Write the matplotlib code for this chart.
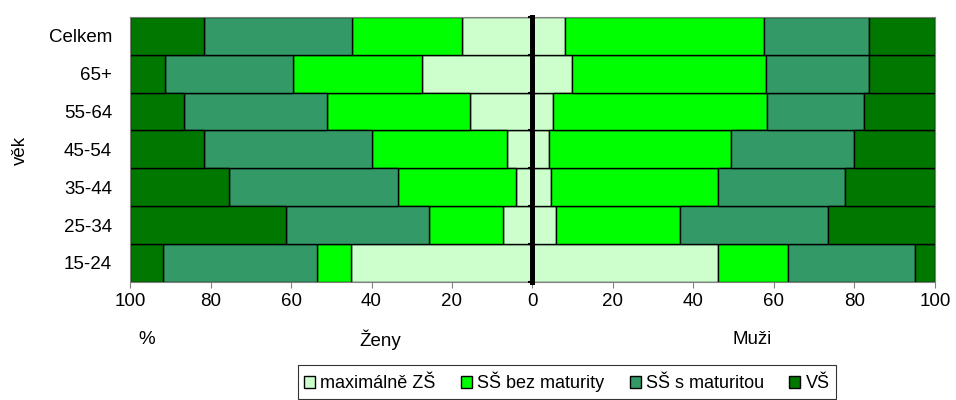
import matplotlib.pyplot as plt
import numpy as np

plt.rcParams['font.family'] = ['Liberation Sans', 'DejaVu Sans']

vek = ['15-24', '25-34', '35-44', '45-54', '55-64', '65+', 'Celkem']
vzdelani = ['maximálně ZŠ', 'SŠ bez maturity', 'SŠ s maturitou', 'VŠ']
barvy = ['#ccffcc', '#00ff00', '#339966', '#007800']

# ženy (levá strana), %
zeny_zs = [45.2, 7.3, 4.2, 6.3, 15.6, 27.5, 17.4]
zeny_bez = [8.4, 18.4, 29.1, 33.5, 35.5, 32.1, 27.4]
zeny_s = [38.1, 35.6, 42.0, 41.8, 35.6, 31.8, 36.8]
zeny_vs = [8.3, 38.7, 24.7, 18.4, 13.3, 8.6, 18.4]
# muži (pravá strana), %
muzi_zs = [46.1, 5.8, 4.5, 4.1, 5.1, 9.7, 8.0]
muzi_bez = [17.3, 30.9, 41.6, 45.3, 53.2, 48.2, 49.4]
muzi_s = [31.7, 36.8, 31.6, 30.4, 24.0, 25.8, 26.1]
muzi_vs = [4.9, 26.5, 22.3, 20.2, 17.7, 16.3, 16.5]

fig = plt.figure(figsize=(9.56, 4), dpi=100)
ax = fig.add_axes([0.136, 0.2955, 0.842, 0.662])

y = np.arange(len(vek))
zeny = [zeny_zs, zeny_bez, zeny_s, zeny_vs]
muzi = [muzi_zs, muzi_bez, muzi_s, muzi_vs]

left_z = np.zeros(len(vek))
left_m = np.zeros(len(vek))
handles = []
for i in range(4):
    z = np.array(zeny[i])
    m = np.array(muzi[i])
    h = ax.barh(y, -z, left=-left_z, height=1.0, color=barvy[i],
                edgecolor='black', linewidth=1, label=vzdelani[i])
    ax.barh(y, m, left=left_m, height=1.0, color=barvy[i],
            edgecolor='black', linewidth=1)
    left_z += z
    left_m += m
    handles.append(h)

ax.set_xlim(-100, 100)
ax.set_ylim(-0.5, len(vek) - 0.5)
ax.set_yticks(y)
ax.set_yticklabels(vek, fontsize=13.5)
ax.tick_params(axis='y', length=0, pad=13)
ticks = np.arange(-100, 101, 20)
ax.set_xticks(ticks)
ax.set_xticklabels([str(abs(t)) for t in ticks], fontsize=13.5)
ax.tick_params(axis='x', length=4, color='#808080', pad=4)
for s in ax.spines.values():
    s.set_color('#808080')
    s.set_linewidth(0.8)

# středová osa s malými značkami (nad pruhy)
osa = ax.twinx()
osa.set_ylim(ax.get_ylim())
osa.yaxis.set_ticks_position('left')
osa.spines['left'].set_position(('data', 0))
osa.spines['left'].set_visible(True)
osa.spines['left'].set_color('black')
osa.spines['left'].set_linewidth(3.6)
for k in ['right', 'top', 'bottom']:
    osa.spines[k].set_visible(False)
osa.set_yticks(np.arange(-0.5, len(vek), 1))
osa.set_yticklabels([])
osa.tick_params(axis='y', length=3, width=1.5, color='black')

fig.text(20 / 956, 1 - 150 / 400, 'věk', rotation=90, fontsize=13.5,
         ha='center', va='center')
fig.text(147 / 956, 0.15, '%', fontsize=13.5, ha='center', va='center')
fig.text(380 / 956, 0.15, 'Ženy', fontsize=13.5, ha='center', va='center')
fig.text(752 / 956, 0.15, 'Muži', fontsize=13.5, ha='center', va='center')

leg = fig.legend(handles=handles, labels=vzdelani, loc='center',
                 bbox_to_anchor=(0.593, 0.045), ncol=4, fontsize=13,
                 frameon=True, fancybox=False, handlelength=0.6,
                 handleheight=0.6, handletextpad=0.3, columnspacing=1.4,
                 borderpad=0.35)
leg.get_frame().set_edgecolor('black')
leg.get_frame().set_linewidth(0.8)

fig.savefig('out.png', dpi=100)
